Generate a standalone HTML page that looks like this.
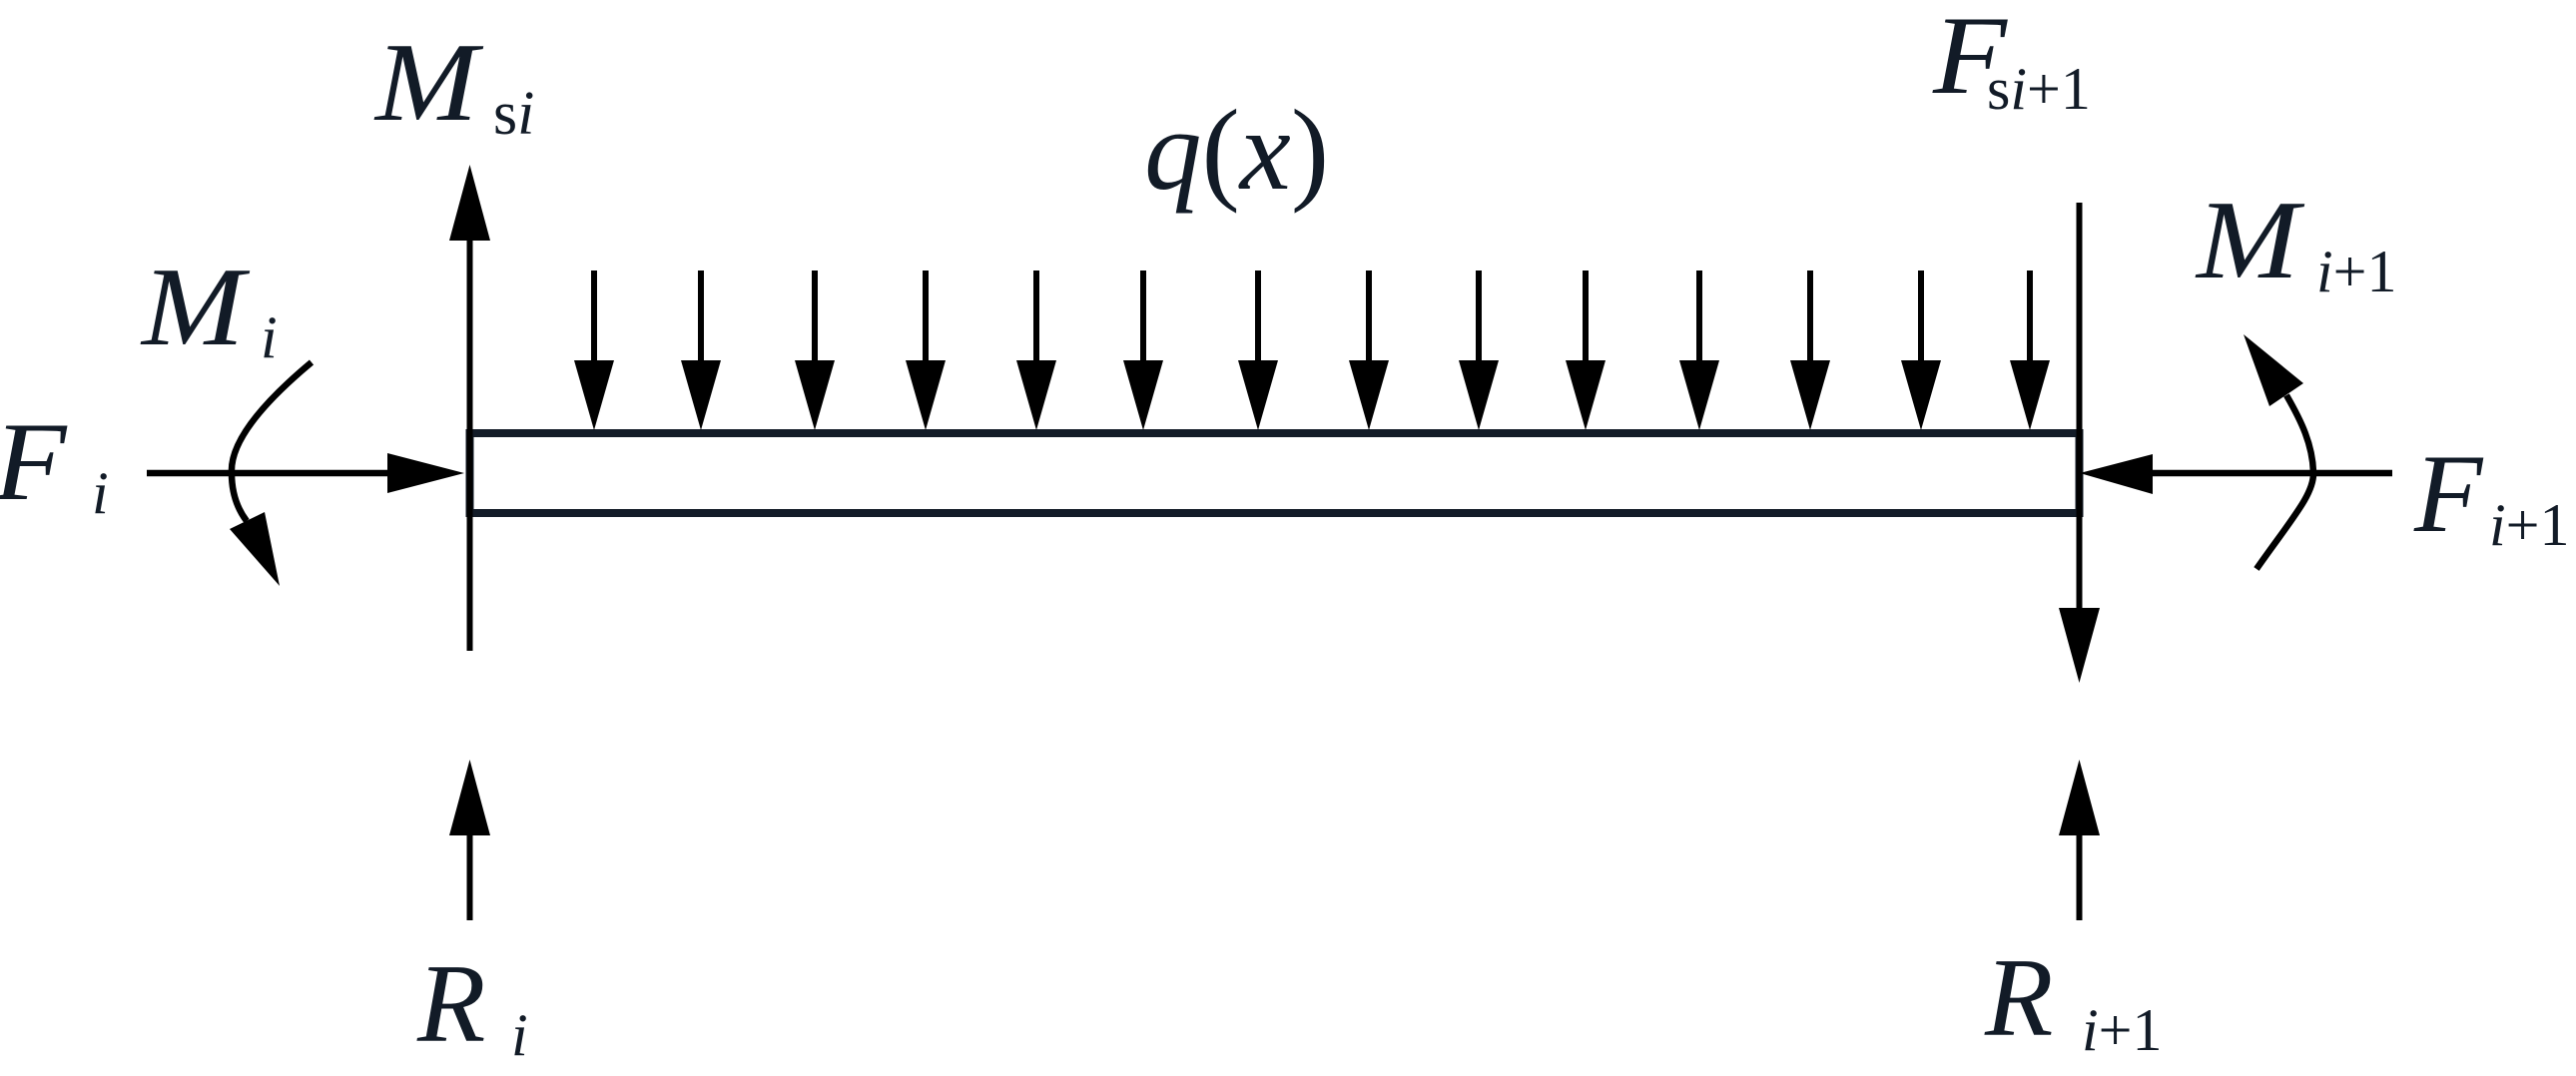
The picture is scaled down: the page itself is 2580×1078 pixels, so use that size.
<!DOCTYPE html>
<html>
<head>
<meta charset="utf-8">
<style>
  html, body { margin: 0; padding: 0; background: #ffffff; }
  body { width: 2580px; height: 1078px; overflow: hidden; }
  svg { display: block; }
  text { font-family: "Liberation Serif", "Times New Roman", Times, serif; fill: #121b27; }
</style>
</head>
<body>
<svg width="2580" height="1078" viewBox="0 0 2580 1078" xmlns="http://www.w3.org/2000/svg">
  <rect x="0" y="0" width="2580" height="1078" fill="#ffffff"/>

  <!-- Beam -->
  <rect x="470.5" y="434" width="1612" height="80" fill="none" stroke="#131c28" stroke-width="8"/>

  <!-- Left vertical line with up arrow (M_si) -->
  <line x1="470.5" y1="235" x2="470.5" y2="652" stroke="#000" stroke-width="6"/>
  <polygon points="450,241 470.5,165 491,241" fill="#000"/>

  <!-- Left bottom reaction arrow R_i -->
  <line x1="470.5" y1="830" x2="470.5" y2="922" stroke="#000" stroke-width="6"/>
  <polygon points="450,837 470.5,761 491,837" fill="#000"/>

  <!-- Right vertical line with down arrow (F_si+1) -->
  <line x1="2082.5" y1="203" x2="2082.5" y2="615" stroke="#000" stroke-width="6"/>
  <polygon points="2062,609 2082.5,684 2103,609" fill="#000"/>

  <!-- Right bottom reaction arrow R_i+1 -->
  <line x1="2082.5" y1="830" x2="2082.5" y2="922" stroke="#000" stroke-width="6"/>
  <polygon points="2062,837 2082.5,761 2103,837" fill="#000"/>

  <!-- F_i horizontal arrow -->
  <line x1="147" y1="474" x2="392" y2="474" stroke="#000" stroke-width="6.5"/>
  <polygon points="388,454 465,474 388,494" fill="#000"/>

  <!-- F_i+1 horizontal arrow -->
  <line x1="2152" y1="474" x2="2396" y2="474" stroke="#000" stroke-width="6.5"/>
  <polygon points="2156,455 2083,474 2156,495" fill="#000"/>

  <!-- Distributed load arrows -->
  <g fill="#000" stroke="#000">
    <line x1="595" y1="271" x2="595" y2="364" stroke-width="6"/>
    <polygon points="575,361 595,431 615,361" stroke="none"/>
    <line x1="702" y1="271" x2="702" y2="364" stroke-width="6"/>
    <polygon points="682,361 702,431 722,361" stroke="none"/>
    <line x1="816" y1="271" x2="816" y2="364" stroke-width="6"/>
    <polygon points="796,361 816,431 836,361" stroke="none"/>
    <line x1="927" y1="271" x2="927" y2="364" stroke-width="6"/>
    <polygon points="907,361 927,431 947,361" stroke="none"/>
    <line x1="1038" y1="271" x2="1038" y2="364" stroke-width="6"/>
    <polygon points="1018,361 1038,431 1058,361" stroke="none"/>
    <line x1="1145" y1="271" x2="1145" y2="364" stroke-width="6"/>
    <polygon points="1125,361 1145,431 1165,361" stroke="none"/>
    <line x1="1260" y1="271" x2="1260" y2="364" stroke-width="6"/>
    <polygon points="1240,361 1260,431 1280,361" stroke="none"/>
    <line x1="1371" y1="271" x2="1371" y2="364" stroke-width="6"/>
    <polygon points="1351,361 1371,431 1391,361" stroke="none"/>
    <line x1="1481" y1="271" x2="1481" y2="364" stroke-width="6"/>
    <polygon points="1461,361 1481,431 1501,361" stroke="none"/>
    <line x1="1588" y1="271" x2="1588" y2="364" stroke-width="6"/>
    <polygon points="1568,361 1588,431 1608,361" stroke="none"/>
    <line x1="1702" y1="271" x2="1702" y2="364" stroke-width="6"/>
    <polygon points="1682,361 1702,431 1722,361" stroke="none"/>
    <line x1="1813" y1="271" x2="1813" y2="364" stroke-width="6"/>
    <polygon points="1793,361 1813,431 1833,361" stroke="none"/>
    <line x1="1924" y1="271" x2="1924" y2="364" stroke-width="6"/>
    <polygon points="1904,361 1924,431 1944,361" stroke="none"/>
    <line x1="2033" y1="271" x2="2033" y2="364" stroke-width="6"/>
    <polygon points="2013,361 2033,431 2053,361" stroke="none"/>
  </g>

  <!-- M_i curved moment arrow -->
  <path d="M312,363 C270,398 230,440 232,474 C232,495 238,510 247,522" fill="none" stroke="#000" stroke-width="6.5"/>
  <polygon points="230,530 280,587 265,513" fill="#000"/>

  <!-- M_i+1 curved moment arrow -->
  <path d="M2260,570 C2295,520 2318,495 2317,473 C2316,445 2305,422 2290,396" fill="none" stroke="#000" stroke-width="6.5"/>
  <polygon points="2273,407 2247,335 2307,384" fill="#000"/>

  <!-- Labels -->
  <g font-family="Liberation Serif, Times New Roman, Times, serif" fill="#121b27">
  <!-- M_si -->
  <text transform="translate(376,120) scale(1.1,1)" x="0" y="0" font-size="112" font-style="italic">M</text>
  <text x="494" y="134" font-size="62"><tspan>s</tspan><tspan font-style="italic">i</tspan></text>

  <!-- q(x) -->
  <text x="1146" y="189" font-size="115"><tspan font-style="italic">q</tspan><tspan>(</tspan><tspan font-style="italic">x</tspan><tspan>)</tspan></text>

  <!-- F_si+1 -->
  <text transform="translate(1936,93) scale(1.08,1)" x="0" y="0" font-size="112" font-style="italic">F</text>
  <text x="1990" y="109" font-size="60"><tspan>s</tspan><tspan font-style="italic">i</tspan><tspan>+1</tspan></text>

  <!-- M_i -->
  <text transform="translate(142,345) scale(1.1,1)" x="0" y="0" font-size="112" font-style="italic">M</text>
  <text x="261" y="358" font-size="60" font-style="italic">i</text>

  <!-- F_i -->
  <text transform="translate(-6,500) scale(1.06,1)" x="0" y="0" font-size="112" font-style="italic">F</text>
  <text x="92" y="514" font-size="60" font-style="italic">i</text>

  <!-- M_i+1 -->
  <text transform="translate(2200,278) scale(1.1,1)" x="0" y="0" font-size="112" font-style="italic">M</text>
  <text x="2320" y="292" font-size="60"><tspan font-style="italic">i</tspan><tspan>+1</tspan></text>

  <!-- F_i+1 -->
  <text x="2418" y="532" font-size="112" font-style="italic">F</text>
  <text x="2493" y="546" font-size="60"><tspan font-style="italic">i</tspan><tspan>+1</tspan></text>

  <!-- R_i -->
  <text x="418" y="1043" font-size="112" font-style="italic">R</text>
  <text x="512" y="1057" font-size="60" font-style="italic">i</text>

  <!-- R_i+1 -->
  <text x="1988" y="1037" font-size="112" font-style="italic">R</text>
  <text x="2085" y="1052" font-size="60"><tspan font-style="italic">i</tspan><tspan>+1</tspan></text>
  </g>
</svg>
</body>
</html>
